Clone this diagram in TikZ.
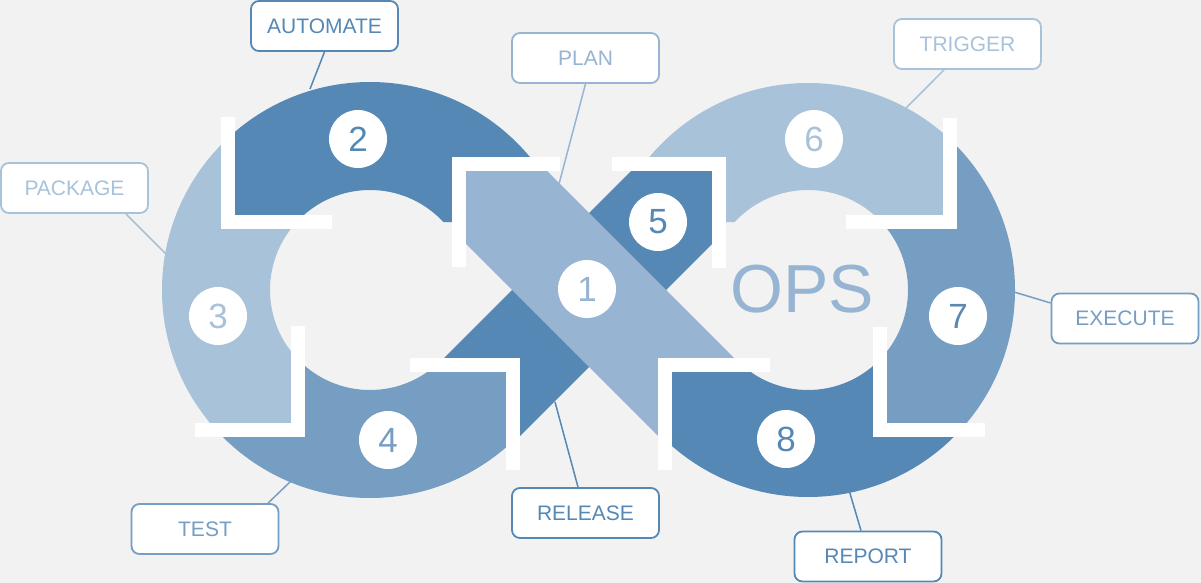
\documentclass[tikz,border=0pt]{standalone}
\usepackage{fontspec}
\setmainfont{Liberation Sans}
\definecolor{bg}{HTML}{F2F2F2}
\definecolor{cdark}{HTML}{5588B5}
\definecolor{cband}{HTML}{97B5D2}
\definecolor{clight}{HTML}{A8C2DA}
\definecolor{cmed}{HTML}{769EC3}
\definecolor{cseven}{HTML}{5E87B2}
\pgfdeclarelayer{bgl}
\pgfdeclarelayer{back}
\pgfsetlayers{bgl,back,main}
\tikzset{
  whitebar/.style={draw=white, line width=14pt, line join=miter},
  numcirc/.style={circle, fill=white, minimum size=58pt, inner sep=0pt, font=\fontsize{35}{35}\selectfont},
  tagbox/.style={draw, rounded corners=8pt, fill=white, line width=1.8pt, minimum width=147pt, minimum height=50pt, inner sep=0pt, font=\fontsize{21}{21}\selectfont},
  conn/.style={line width=1.5pt}
}
\begin{document}
\begin{tikzpicture}[x=1pt,y=-1pt]
\begin{pgfonlayer}{bgl}
\fill[bg] (0,0) rectangle (1201,583);
\end{pgfonlayer}
\useasboundingbox (0,0) rectangle (1201,583);

% ---- left ring segments ----
\begin{scope}
\clip (-10,-10) -- (228,-10) -- (228,222) -- (298,222) -- (298,430) -- (-10,430) -- cycle;
\fill[clight, even odd rule] (370,290) circle[radius=208] (370,290) circle[radius=100];
\end{scope}
\begin{scope}
\clip (228,-10) -- (600,-10) -- (600,164) -- (459,164) -- (459,222) -- (228,222) -- cycle;
\fill[cdark, even odd rule] (370,290) circle[radius=208] (370,290) circle[radius=100];
\end{scope}
\begin{scope}
\clip (-10,430) -- (298,430) -- (298,365) -- (513,365) -- (513,600) -- (-10,600) -- cycle;
\fill[cmed, even odd rule] (370,290) circle[radius=208] (370,290) circle[radius=100];
\end{scope}

% ---- right ring segments ----
\begin{scope}
\clip (950,-10) -- (578,-10) -- (578,164) -- (719,164) -- (719,222) -- (950,222) -- cycle;
\fill[clight, even odd rule] (808,290) circle[radius=207] (808,290) circle[radius=100];
\end{scope}
\begin{scope}
\clip (950,-10) -- (1210,-10) -- (1210,430) -- (880,430) -- (880,222) -- (950,222) -- cycle;
\fill[cmed, even odd rule] (808,290) circle[radius=207] (808,290) circle[radius=100];
\end{scope}

% ---- dark band (incl. segment 5) ----
\fill[cdark] (638,164) -- (719,164) -- (719,237) -- (513,443) -- (513,365) -- (437,365) -- cycle;

% ---- light band (segment 1) ----
\fill[cband] (459,164) -- (540,164) -- (741,365) -- (665,365) -- (665,443) -- (459,237) -- cycle;

% ---- segment 8 ----
\begin{scope}
\clip (1210,430) -- (880,430) -- (880,365) -- (665,365) -- (665,600) -- (1210,600) -- cycle;
\fill[cdark, even odd rule] (808,290) circle[radius=207] (808,290) circle[radius=100];
\end{scope}

% ---- white brackets ----
\draw[whitebar] (228,117) -- (228,222) -- (332,222);
\draw[whitebar] (298,326) -- (298,430) -- (195,430);
\draw[whitebar] (410,365) -- (513,365) -- (513,470);
\draw[whitebar] (459,267) -- (459,164) -- (560,164);
\draw[whitebar] (612,164) -- (719,164) -- (719,268);
\draw[whitebar] (950,118) -- (950,222) -- (846,222);
\draw[whitebar] (880,327) -- (880,430) -- (985,430);
\draw[whitebar] (770,365) -- (665,365) -- (665,470);

% ---- numbers ----
\node[numcirc, text=cband] (n1) at (587,289) {1};
\node[numcirc, text=cdark] (n2) at (358,139) {2};
\node[numcirc, text=clight] (n3) at (218,316) {3};
\node[numcirc, text=cmed] (n4) at (388,440) {4};
\node[numcirc, text=cdark] (n5) at (658,222) {5};
\node[numcirc, text=clight] (n6) at (814,139) {6};
\node[numcirc, text=cseven] (n7) at (958,316) {7};
\node[numcirc, text=cdark] (n8) at (786,439) {8};

\node[text=cband, inner sep=0pt, font=\fontsize{68}{68}\selectfont] (ops) at (802,289) {OPS};

% ---- labels ----
\node[tagbox, draw=cdark, text=cdark] (automate) at (324.5,26) {AUTOMATE};
\node[tagbox, draw=clight, text=clight] (package) at (74.5,188) {PACKAGE};
\node[tagbox, draw=cband, text=cband] (plan) at (585.5,58) {PLAN};
\node[tagbox, draw=clight, text=clight] (trigger) at (967.5,44) {TRIGGER};
\node[tagbox, draw=cmed, text=cmed] (execute) at (1125,318.5) {EXECUTE};
\node[tagbox, draw=cmed, text=cmed] (test) at (205,529) {TEST};
\node[tagbox, draw=cdark, text=cdark] (release) at (585.5,513) {RELEASE};
\node[tagbox, draw=cdark, text=cdark] (report) at (868,556.5) {REPORT};

% ---- connector end points ----
\coordinate (pAuto) at (310,89);
\coordinate (pPack) at (166,254);
\coordinate (pPlan) at (559,184);
\coordinate (pTrig) at (906,108);
\coordinate (pExec) at (1014,292);
\coordinate (pTest) at (291,481);
\coordinate (pRel) at (555,402);
\coordinate (pRep) at (849,490);

\begin{pgfonlayer}{back}
\draw[conn, cdark] (automate.south) -- (pAuto);
\draw[conn, clight] ([xshift=-23pt]package.south east) -- (pPack);
\draw[conn, cband] (plan.south) -- (pPlan);
\draw[conn, clight] ([xshift=-23.5pt]trigger.south) -- (pTrig);
\draw[conn, cmed] ([yshift=15.5pt]execute.west) -- (pExec);
\draw[conn, cmed] ([xshift=63pt]test.north) -- (pTest);
\draw[conn, cdark] ([xshift=-7.5pt]release.north) -- (pRel);
\draw[conn, cdark] ([xshift=-7pt]report.north) -- (pRep);
\end{pgfonlayer}
\end{tikzpicture}
\end{document}
